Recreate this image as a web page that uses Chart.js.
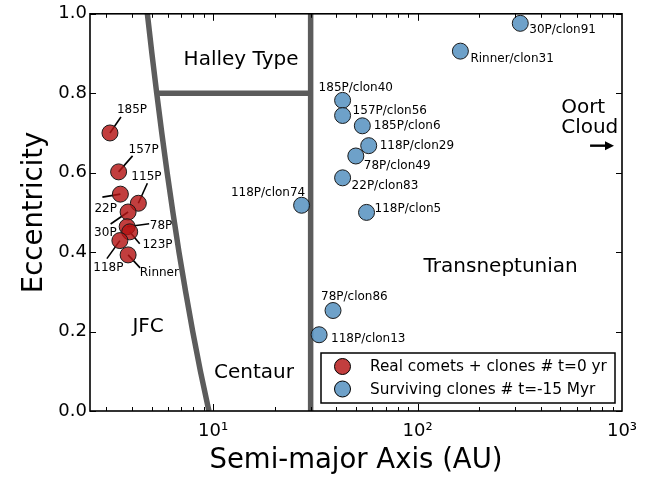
<!DOCTYPE html>
<html>
<head>
<meta charset="utf-8">
<script src="https://cdn.jsdelivr.net/npm/chart.js@4.4.0/dist/chart.umd.min.js"></script>
<style>
  html, body { margin: 0; padding: 0; background: #ffffff; }
  #wrap { width: 650px; height: 477px; }
</style>
</head>
<body>
<div id="wrap"><canvas id="myChart" width="650" height="477"></canvas></div>
<script>
// real comets + clones, t = 0 yr
const REAL_NAMES = ["185P", "157P", "22P", "115P", "30P", "78P", "123P", "118P", "Rinner"];
const REAL_A = [3.13, 3.45, 3.52, 4.31, 3.84, 3.8, 3.91, 3.5, 3.84];
const REAL_E = [0.7, 0.602, 0.546, 0.523, 0.501, 0.464, 0.451, 0.429, 0.393];

// surviving clones, t = -15 Myr
const CLONE_NAMES = [
  "30P/clon91", "Rinner/clon31", "185P/clon40", "157P/clon56", "185P/clon6", "118P/clon29",
  "78P/clon49", "22P/clon83", "118P/clon5", "118P/clon74", "78P/clon86", "118P/clon13",
];
const CLONE_A = [318, 162, 43, 43, 53.7, 57.7, 49.9, 43, 56.3, 27.1, 38.6, 33.0];
const CLONE_E = [0.976, 0.906, 0.782, 0.744, 0.718, 0.668, 0.642, 0.587, 0.5, 0.518, 0.253, 0.192];

// region boundaries
const JFC_E = [0, 0.1, 0.2, 0.3, 0.4, 0.5, 0.6, 0.7, 0.8, 0.9, 1.0];
const JFC_A = [9.54, 8.67, 7.95, 7.34, 6.81, 6.36, 5.96, 5.61, 5.3, 5.02, 4.77];
const HALLEY_A = [5.3, 30];
const HALLEY_E = [0.8, 0.8];
const NEPTUNE_A = [30, 30];
const NEPTUNE_E = [0, 1];

// axes
const X_TICKS = [10, 100, 1000];
const X_TICK_LABELS = ["10¹", "10²", "10³"];
const Y_TICKS = [0, 0.2, 0.4, 0.6, 0.8, 1.0];

const RED = "rgba(180, 20, 20, 0.82)";
const BLUE = "rgba(85, 144, 191, 0.85)";
const GREY = "#5c5c5c";
const FONT = "'DejaVu Sans', sans-serif";

// label placement in px relative to the marker: [textX, textY, lineX, lineY]
const REAL_LABEL_OFFSETS = [
  [7, -20, 11, -16],
  [10, -19, 14, -16],
  [-26, 18, -18, 3],
  [-7, -23, 9, -20],
  [-34, 24, -17.5, 12],
  [22.6, 2.3, 22, -3],
  [12.7, 16.5, 10, 12],
  [-26.6, 30.5, -13, 18],
  [11.6, 21, 12, 13],
];
const CLONE_LABEL_OFFSETS = [
  [9, 10], [10, 11], [-24, -9], [10, -1], [11.5, 3.5], [11, 3.5],
  [8, 12.7], [9, 10.7], [8, -0.7], [-70.7, -9.3], [-12, -10.7], [12, 7.4],
];

// text placed in data coordinates: [text, a, e, align]
const REGION_TEXTS = [
  ["Halley Type", 13.7, 0.87, "center"],
  ["Oort", 504, 0.749, "left"],
  ["Cloud", 504, 0.699, "left"],
  ["Transneptunian", 107, 0.349, "left"],
  ["JFC", 4.03, 0.199, "left"],
  ["Centaur", 10.1, 0.083, "left"],
];

const toPoints = (xs, ys) => xs.map((x, i) => ({ x, y: ys[i] }));

const boundaryLine = (xs, ys) => ({
  data: toPoints(xs, ys),
  showLine: true,
  pointRadius: 0,
  borderColor: GREY,
  borderWidth: 5.5,
  borderCapStyle: "butt",
  clip: 0,
  order: 5,
});

// leader lines under the semi-transparent markers
const leaderPlugin = {
  id: "leaders",
  beforeDatasetsDraw(chart) {
    const { ctx, scales } = chart;
    ctx.save();
    ctx.strokeStyle = "#000";
    ctx.lineWidth = 1.6;
    REAL_A.forEach((a, i) => {
      const px = scales.x.getPixelForValue(a);
      const py = scales.y.getPixelForValue(REAL_E[i]);
      const off = REAL_LABEL_OFFSETS[i];
      ctx.beginPath();
      ctx.moveTo(px + off[2], py + off[3]);
      ctx.lineTo(px, py);
      ctx.stroke();
    });
    ctx.restore();
  },
};

// frame, inward ticks, annotations and legend
const decorPlugin = {
  id: "decor",
  afterDatasetsDraw(chart) {
    const { ctx, scales, chartArea: area } = chart;
    const sx = scales.x;
    const sy = scales.y;
    ctx.save();

    // ticks
    ctx.strokeStyle = "#000";
    ctx.lineWidth = 1;
    for (let k = 0; k < 3; k++) {
      for (let m = 1; m < 10; m++) {
        const v = m * Math.pow(10, k);
        if (v < sx.min || v > sx.max) continue;
        const px = Math.round(sx.getPixelForValue(v)) + 0.5;
        const len = m === 1 ? 7 : 4;
        ctx.beginPath();
        ctx.moveTo(px, area.bottom);
        ctx.lineTo(px, area.bottom - len);
        ctx.moveTo(px, area.top);
        ctx.lineTo(px, area.top + len);
        ctx.stroke();
      }
    }
    Y_TICKS.forEach((v) => {
      const py = Math.round(sy.getPixelForValue(v)) + 0.5;
      ctx.beginPath();
      ctx.moveTo(area.left, py);
      ctx.lineTo(area.left + 6, py);
      ctx.moveTo(area.right, py);
      ctx.lineTo(area.right - 6, py);
      ctx.stroke();
    });

    // frame
    ctx.lineWidth = 1.6;
    ctx.strokeRect(area.left, area.top, area.right - area.left, area.bottom - area.top);

    // point labels
    ctx.fillStyle = "#000";
    ctx.font = "12px " + FONT;
    ctx.textAlign = "left";
    ctx.textBaseline = "alphabetic";
    REAL_NAMES.forEach((name, i) => {
      const px = sx.getPixelForValue(REAL_A[i]);
      const py = sy.getPixelForValue(REAL_E[i]);
      ctx.fillText(name, px + REAL_LABEL_OFFSETS[i][0], py + REAL_LABEL_OFFSETS[i][1]);
    });
    CLONE_NAMES.forEach((name, i) => {
      const px = sx.getPixelForValue(CLONE_A[i]);
      const py = sy.getPixelForValue(CLONE_E[i]);
      ctx.fillText(name, px + CLONE_LABEL_OFFSETS[i][0], py + CLONE_LABEL_OFFSETS[i][1]);
    });

    // region names
    ctx.font = "20px " + FONT;
    REGION_TEXTS.forEach(([text, a, e, align]) => {
      ctx.textAlign = align;
      ctx.fillText(text, sx.getPixelForValue(a), sy.getPixelForValue(e));
    });

    // Oort cloud arrow
    const ay = sy.getPixelForValue(0.668);
    const ax0 = sx.getPixelForValue(698);
    const ax1 = sx.getPixelForValue(914);
    ctx.lineWidth = 2.4;
    ctx.beginPath();
    ctx.moveTo(ax0, ay);
    ctx.lineTo(ax1 - 6, ay);
    ctx.stroke();
    ctx.beginPath();
    ctx.moveTo(ax1, ay);
    ctx.lineTo(ax1 - 9, ay - 4.5);
    ctx.lineTo(ax1 - 9, ay + 4.5);
    ctx.closePath();
    ctx.fill();

    // legend
    const lx = area.right - 301;
    const ly = area.bottom - 58;
    ctx.fillStyle = "#fff";
    ctx.fillRect(lx, ly, 294, 50);
    ctx.strokeStyle = "#000";
    ctx.lineWidth = 1.5;
    ctx.strokeRect(lx, ly, 294, 50);
    const entries = [
      ["Real comets + clones # t=0 yr", RED],
      ["Surviving clones # t=-15 Myr", BLUE],
    ];
    ctx.font = "15.3px " + FONT;
    ctx.textAlign = "left";
    ctx.textBaseline = "middle";
    entries.forEach(([text, color], i) => {
      const cy = ly + 13.5 + i * 22.5;
      ctx.beginPath();
      ctx.arc(lx + 21.5, cy, 8, 0, Math.PI * 2);
      ctx.fillStyle = color;
      ctx.fill();
      ctx.lineWidth = 1;
      ctx.stroke();
      ctx.fillStyle = "#000";
      ctx.fillText(text, lx + 49, cy + 1);
    });

    ctx.restore();
  },
};

const createChart = () => {
  const ctx = document.getElementById("myChart").getContext("2d");
  Chart.defaults.font.family = FONT;
  Chart.defaults.color = "#000";

  return new Chart(ctx, {
    type: "scatter",
    data: {
      datasets: [
        {
          label: "Surviving clones # t=-15 Myr",
          data: toPoints(CLONE_A, CLONE_E),
          backgroundColor: BLUE,
          borderColor: "#1a1a1a",
          borderWidth: 1,
          pointRadius: 8,
          order: 0,
        },
        {
          label: "Real comets + clones # t=0 yr",
          data: toPoints(REAL_A, REAL_E),
          backgroundColor: RED,
          borderColor: "#1a1a1a",
          borderWidth: 1,
          pointRadius: 8,
          order: 1,
        },
        boundaryLine(JFC_A, JFC_E),
        boundaryLine(HALLEY_A, HALLEY_E),
        boundaryLine(NEPTUNE_A, NEPTUNE_E),
      ],
    },
    options: {
      responsive: false,
      animation: false,
      devicePixelRatio: 1,
      layout: { padding: { left: 0, right: 28, top: 12, bottom: 0 } },
      plugins: {
        legend: { display: false },
        tooltip: { enabled: false },
      },
      scales: {
        x: {
          type: "logarithmic",
          min: 2.5,
          max: 1000,
          grid: { display: false, drawTicks: false },
          border: { display: false },
          afterBuildTicks: (scale) => {
            scale.ticks = X_TICKS.map((value) => ({ value }));
          },
          afterFit: (scale) => {
            scale.height = 66;
          },
          ticks: {
            autoSkip: false,
            maxRotation: 0,
            padding: 10,
            font: { size: 18 },
            callback: (value, index) => X_TICK_LABELS[index],
          },
          title: {
            display: true,
            text: "Semi-major Axis (AU)",
            font: { size: 27.5 },
            padding: { top: 0, bottom: 0 },
          },
        },
        y: {
          min: 0,
          max: 1,
          grid: { display: false, drawTicks: false },
          border: { display: false },
          afterBuildTicks: (scale) => {
            scale.ticks = Y_TICKS.map((value) => ({ value }));
          },
          afterFit: (scale) => {
            scale.width = 90;
          },
          ticks: {
            padding: 3,
            font: { size: 18 },
            callback: (value) => value.toFixed(1),
          },
          title: {
            display: true,
            text: "Eccentricity",
            font: { size: 27.5 },
            padding: { top: 18, bottom: 0 },
          },
        },
      },
    },
    plugins: [leaderPlugin, decorPlugin],
  });
};

createChart();
</script>
</body>
</html>
